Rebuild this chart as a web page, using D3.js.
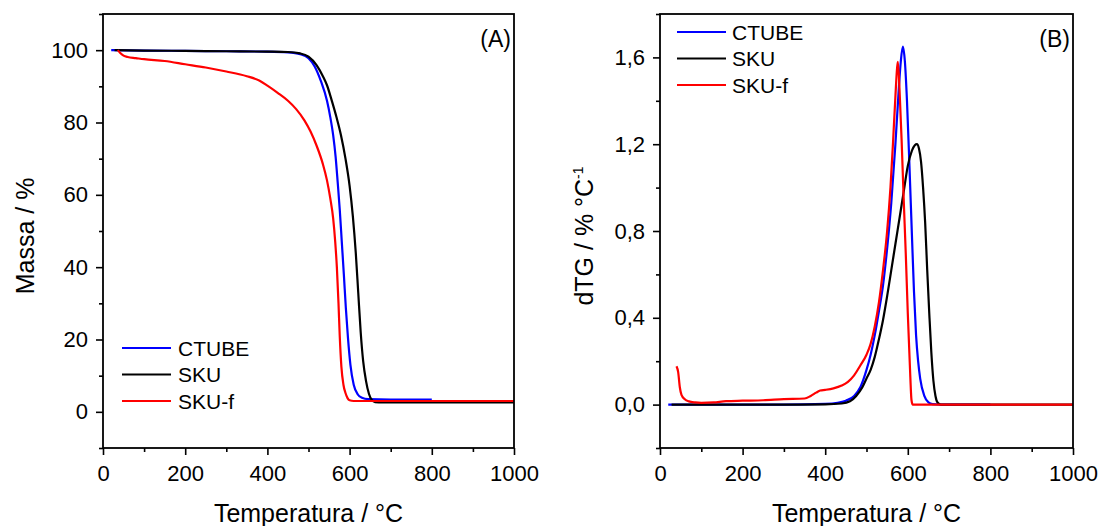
<!DOCTYPE html>
<html>
<head>
<meta charset="utf-8">
<script src="https://cdn.jsdelivr.net/npm/d3@7"></script>
<style>
  body { margin: 0; background: #fff; }
  svg { display: block; font-family: "Liberation Sans", Arial, sans-serif; }
  .tick text { font-size: 22px; fill: #000; }
  .tick line { stroke: #000; stroke-width: 1.6px; }
</style>
</head>
<body>
<svg id="chart" width="1102" height="526"></svg>
<script>
'use strict';

// series names, colours
var seriesNames = ['CTUBE', 'SKU', 'SKU-f'];
var seriesColors = ['#0000ff', '#000000', '#ff0000'];

// tick values / labels
var tempTicks = [0, 200, 400, 600, 800, 1000];
var tempMinor = [100, 300, 500, 700, 900];
var massTicks = [0, 20, 40, 60, 80, 100];
var massMinor = [-10, 10, 30, 50, 70, 90, 110];
var dtgTicks = [0, 0.4, 0.8, 1.2, 1.6];
var dtgTickLabels = ['0,0', '0,4', '0,8', '1,2', '1,6'];
var dtgMinor = [-0.2, 0.2, 0.6, 1.0, 1.4, 1.8];

// (A) TG curves: [temperature °C, mass %]
var tgCtube = [[20,100],[100,99.9],[200,99.8],[300,99.7],[400,99.6],[450,99.4],[480,98.9],[500,97.8],
  [515,95.5],[530,91.5],[545,86],[553,81.5],[560,76.5],[566,70.5],[571,63.5],[576,56],[581,47],
  [586,38],[591,28.5],[596,20.5],[602,13],[610,7.5],[620,4.8],[630,3.9],[645,3.5],[700,3.4],[800,3.4]];
var tgSku = [[28,100],[100,99.9],[200,99.8],[300,99.7],[400,99.6],[450,99.5],[480,99.1],[500,98.2],
  [520,95.8],[535,92.8],[545,90.3],[557,85.9],[568,81.5],[579,76.5],[590,70],[600,62.5],[608,54],
  [615,44],[621,33],[627,22],[633,14],[640,8.5],[647,5],[654,3.3],[662,2.7],[680,2.6],[1000,2.6]];
var tgSkuF = [[36,100],[42,99.2],[50,98.5],[60,98.1],[80,97.8],[100,97.5],[150,97],[200,96.1],
  [250,95.2],[300,94.1],[350,92.8],[380,91.6],[400,90.2],[425,88.2],[450,86],[470,83.7],[490,80.6],
  [505,77.5],[520,73.5],[535,68.5],[545,64],[553,59],[560,53.5],[565,47],[569,40],[573,30],
  [576,21],[580,12.5],[585,7.5],[590,5.2],[595,3.8],[600,3.2],[610,3.0],[1000,3.0]];

// (B) DTG curves: [temperature °C, dTG %/°C]
var dtgCtube = [[20,0],[100,0],[200,0],[300,0],[400,0.003],[430,0.008],[450,0.018],[470,0.04],
  [485,0.08],[500,0.16],[510,0.23],[520,0.32],[530,0.43],[540,0.55],[550,0.72],[560,0.93],
  [570,1.2],[578,1.45],[583,1.58],[588,1.65],[593,1.58],[598,1.4],[604,1.1],[610,0.78],
  [615,0.52],[620,0.32],[625,0.2],[630,0.12],[640,0.04],[650,0.01],[660,0.002],[680,0],[800,0]];
var dtgSku = [[28,0],[100,0],[200,0],[300,0],[400,0.001],[440,0.005],[460,0.015],[475,0.04],
  [490,0.08],[500,0.12],[510,0.16],[520,0.22],[530,0.3],[540,0.39],[550,0.5],[560,0.62],
  [570,0.74],[580,0.86],[590,0.98],[600,1.1],[610,1.17],[617,1.195],[622,1.2],[627,1.18],
  [632,1.12],[637,1.0],[642,0.84],[647,0.62],[652,0.42],[657,0.24],[662,0.11],[667,0.04],
  [672,0.01],[680,0],[1000,0]];
var dtgSkuF = [[40,0.177],[44,0.15],[48,0.08],[52,0.045],[60,0.025],[70,0.015],[85,0.01],
  [100,0.008],[130,0.01],[160,0.016],[200,0.018],[250,0.02],[300,0.025],[350,0.028],[365,0.04],
  [378,0.055],[388,0.065],[400,0.068],[420,0.075],[440,0.088],[455,0.105],[470,0.135],[485,0.18],
  [500,0.23],[510,0.28],[520,0.36],[530,0.47],[540,0.62],[550,0.8],[558,1.0],[564,1.2],
  [570,1.42],[574,1.55],[576,1.58],[580,1.45],[585,1.22],[590,0.95],[595,0.7],[600,0.42],
  [605,0.18],[609,0.02],[612,0],[1000,0]];

var svg = d3.select('#chart');

/**
 * Draws one framed panel with its axes, curves and legend.
 */
var drawPanel = function(opt) {
  var x = d3.scaleLinear().domain([0, 1000]).range([opt.left, opt.right]);
  var y = d3.scaleLinear().domain(opt.yDomain).range([opt.bottom, opt.top]);
  var g = svg.append('g');

  // minor ticks first, then major ticks with labels
  g.append('g')
    .attr('transform', 'translate(0,' + opt.bottom + ')')
    .call(d3.axisBottom(x).tickValues(tempMinor).tickSize(4).tickSizeOuter(0).tickFormat(''))
    .select('.domain').remove();
  g.append('g')
    .attr('transform', 'translate(0,' + opt.bottom + ')')
    .call(d3.axisBottom(x).tickValues(tempTicks).tickSize(7).tickSizeOuter(0).tickPadding(10)
      .tickFormat(d3.format('d')))
    .select('.domain').remove();

  g.append('g')
    .attr('transform', 'translate(' + opt.left + ',0)')
    .call(d3.axisLeft(y).tickValues(opt.yMinor).tickSize(4).tickSizeOuter(0).tickFormat(''))
    .select('.domain').remove();
  g.append('g')
    .attr('transform', 'translate(' + opt.left + ',0)')
    .call(d3.axisLeft(y).tickValues(opt.yTicks).tickSize(7).tickSizeOuter(0).tickPadding(8)
      .tickFormat(function(d, i) { return opt.yLabels[i]; }))
    .select('.domain').remove();

  // curves
  var line = d3.line()
    .x(function(d) { return x(d[0]); })
    .y(function(d) { return y(d[1]); })
    .curve(d3.curveMonotoneX);
  opt.series.forEach(function(s, i) {
    g.append('path')
      .datum(s)
      .attr('fill', 'none')
      .attr('stroke', seriesColors[i])
      .attr('stroke-width', 2.2)
      .attr('stroke-linejoin', 'round')
      .attr('d', line);
  });

  // frame
  g.append('rect')
    .attr('x', opt.left).attr('y', opt.top)
    .attr('width', opt.right - opt.left).attr('height', opt.bottom - opt.top)
    .attr('fill', 'none').attr('stroke', '#000').attr('stroke-width', 1.8);

  // panel letter
  g.append('text')
    .attr('x', opt.right - 3).attr('y', opt.top + 33)
    .attr('text-anchor', 'end').attr('font-size', 23)
    .text(opt.letter);

  // axis titles
  g.append('text')
    .attr('x', (opt.left + opt.right) / 2).attr('y', 522)
    .attr('text-anchor', 'middle').attr('font-size', 25)
    .text('Temperatura / °C');
  var yt = g.append('text')
    .attr('transform', 'translate(' + opt.titleX + ',' + opt.titleY + ') rotate(-90)')
    .attr('text-anchor', 'middle').attr('font-size', 25);
  yt.append('tspan').text(opt.yTitle);
  if (opt.yTitleSup) {
    yt.append('tspan').attr('dy', -10).attr('font-size', 14).text(opt.yTitleSup);
  }

  // legend
  seriesNames.forEach(function(name, i) {
    var ly = opt.legendY + i * 26.5;
    g.append('line')
      .attr('x1', opt.legendX).attr('x2', opt.legendX + 49)
      .attr('y1', ly).attr('y2', ly)
      .attr('stroke', seriesColors[i]).attr('stroke-width', 2.2);
    g.append('text')
      .attr('x', opt.legendX + opt.legendGap).attr('y', ly)
      .attr('dy', '0.36em').attr('font-size', 21)
      .text(name);
  });
};

drawPanel({
  left: 103, right: 514, top: 14, bottom: 448,
  yDomain: [-10, 110], yTicks: massTicks, yLabels: massTicks, yMinor: massMinor,
  series: [tgCtube, tgSku, tgSkuF],
  letter: '(A)', yTitle: 'Massa / %', titleX: 34, titleY: 236,
  legendX: 122, legendY: 348, legendGap: 56
});

drawPanel({
  left: 660, right: 1073, top: 14, bottom: 448,
  yDomain: [-0.2, 1.8], yTicks: dtgTicks, yLabels: dtgTickLabels, yMinor: dtgMinor,
  series: [dtgCtube, dtgSku, dtgSkuF],
  letter: '(B)', yTitle: 'dTG / % °C', yTitleSup: '-1', titleX: 593, titleY: 236,
  legendX: 677, legendY: 32, legendGap: 55
});
</script>
</body>
</html>
